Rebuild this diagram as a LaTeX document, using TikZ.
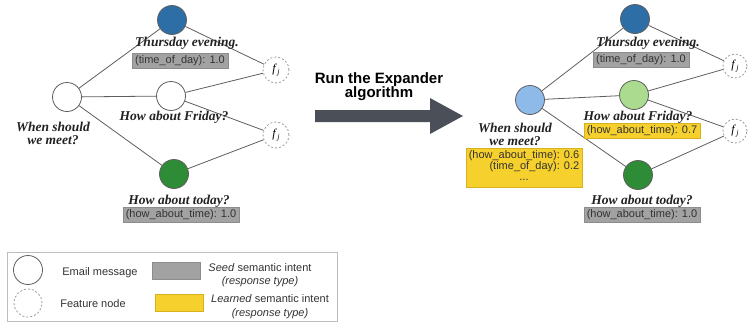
\documentclass[tikz,border=0pt]{standalone}
\usepackage{fontspec}
\setmainfont{Liberation Serif}
\newfontfamily\lsans{Liberation Sans}
\definecolor{edgec}{HTML}{5E5E5E}
\definecolor{featc}{HTML}{9A9A9A}
\definecolor{txtc}{HTML}{222222}
\definecolor{boxtxt}{HTML}{333333}
\definecolor{seedc}{HTML}{A2A2A2}
\definecolor{seedd}{HTML}{8C8C8C}
\definecolor{learnc}{HTML}{F6D02C}
\definecolor{learnd}{HTML}{D8B21E}
\definecolor{bluec}{HTML}{2D6EA6}
\definecolor{greenc}{HTML}{2E8B36}
\definecolor{lbluec}{HTML}{8DBAE8}
\definecolor{lgreenc}{HTML}{AADB8F}
\definecolor{arrowc}{HTML}{4B5058}
\definecolor{legc}{HTML}{BDBDBD}
\newcommand{\fj}{\textit{f}\kern0.2pt\raisebox{-2.5pt}{\fontsize{8}{8}\selectfont\textit{j}}}
\begin{document}
\begin{tikzpicture}[x=1pt,y=-1pt,
  edge/.style={draw=edgec, line width=0.8pt},
  msg/.style={circle, draw=edgec, line width=0.8pt, minimum size=29pt, inner sep=0pt},
  feat/.style={circle, draw=featc, dashed, dash pattern=on 2pt off 2pt, line width=0.8pt, minimum size=26pt, inner sep=0pt, font=\fontsize{12}{12}\selectfont},
  qtext/.style={font=\fontsize{13.5}{13}\selectfont\bfseries\itshape, text=txtc, inner sep=0pt, align=center},
  seedbox/.style={fill=seedc, draw=seedd, line width=0.5pt, font=\lsans\fontsize{11}{11}\selectfont, text=boxtxt, inner xsep=3pt, inner ysep=2pt, minimum height=15pt},
  learnbox/.style={seedbox, fill=learnc, draw=learnd},
  legtext/.style={font=\lsans\fontsize{11}{13.5}\selectfont, text=boxtxt, inner sep=0pt, align=center},
]
\useasboundingbox (0,0) rectangle (748,325);

% ---------------- left graph ----------------
\node[msg, fill=white] (L) at (67,97) {};
\node[msg, fill=bluec] (T) at (172,20) {};
\node[msg, fill=white] (F) at (171,96) {};
\node[msg, fill=greenc] (G) at (174,174) {};
\node[feat, fill=white] (fa) at (276,70) {\fj};
\node[feat, fill=white] (fb) at (276,135) {\fj};
\draw[edge] (L) -- (T);
\draw[edge] (L) -- (F);
\draw[edge] (L) -- (G);
\draw[edge] (T) -- (fa);
\draw[edge] (F) -- (fa);
\draw[edge] (F) -- (fb);
\draw[edge] (G) -- (fb);

\node[qtext] (tq1) at (187,43) {Thursday evening.};
\node[seedbox] (tb1) at (180,61) {(time\_of\_day): 1.0};
\node[qtext] (fq1) at (174,117) {How about Friday?};
\node[qtext] (lq1) at (53,133) {When should\\we meet?};
\node[qtext] (gq1) at (179,201) {How about today?};
\node[seedbox] (gb1) at (181,215) {(how\_about\_time): 1.0};

% ---------------- arrow ----------------
\fill[arrowc] (315,110) -- (430,110) -- (430,98) -- (463,116) -- (430,134) -- (430,122) -- (315,122) -- cycle;
\node[font=\lsans\bfseries\fontsize{15}{14}\selectfont, align=center, inner sep=0pt] (run) at (379,87) {Run the Expander\\algorithm};

% ---------------- right graph ----------------
\node[msg, fill=lbluec] (L2) at (530,100) {};
\node[msg, fill=bluec] (T2) at (635,19) {};
\node[msg, fill=lgreenc] (F2) at (634,95) {};
\node[msg, fill=greenc] (G2) at (638,175) {};
\node[feat, fill=white, minimum size=24pt] (fa2) at (735,66) {\fj};
\node[feat, fill=white, minimum size=24pt] (fb2) at (735,131) {\fj};
\draw[edge] (L2) -- (T2);
\draw[edge] (L2) -- (F2);
\draw[edge] (L2) -- (G2);
\draw[edge] (T2) -- (fa2);
\draw[edge] (F2) -- (fa2);
\draw[edge] (F2) -- (fb2);
\draw[edge] (G2) -- (fb2);

\node[qtext] (tq2) at (648,43) {Thursday evening.};
\node[seedbox] (tb2) at (641,60) {(time\_of\_day): 1.0};
\node[qtext] (fq2) at (638,117) {How about Friday?};
\node[learnbox] (fb2box) at (642,131) {(how\_about\_time): 0.7};
\node[qtext] (lq2) at (515,134) {When should\\we meet?};
\node[learnbox, inner ysep=2.5pt] (lb2) at (524,167.5) {\begin{tabular}{@{}r@{}}(how\_about\_time): 0.6\\(time\_of\_day): 0.2\\\multicolumn{1}{@{}c@{}}{...}\end{tabular}};
\node[qtext] (gq2) at (642,201) {How about today?};
\node[seedbox] (gb2) at (642,215) {(how\_about\_time): 1.0};

% ---------------- legend ----------------
\node[draw=legc, line width=0.6pt, minimum width=330pt, minimum height=69pt, inner sep=0pt] (leg) at (172,286.5) {};
\node[msg, minimum size=29pt] (lm) at (28,270) {};
\node[feat, minimum size=28pt] (lf) at (28,303) {};
\node[legtext] (lmt) at (100,273) {Email message};
\node[legtext] (lft) at (93,304) {Feature node};
\node[fill=seedc, draw=seedd, line width=0.5pt, minimum width=48pt, minimum height=17pt, inner sep=0pt] (ls) at (176,270.5) {};
\node[fill=learnc, draw=learnd, line width=0.5pt, minimum width=48pt, minimum height=17pt, inner sep=0pt] (ll) at (179,303) {};
\node[legtext] (lst) at (260,275) {\textit{Seed} semantic intent\\\textit{(response type)}};
\node[legtext] (llt) at (270,306.5) {\textit{Learned} semantic intent\\\textit{(response type)}};
\end{tikzpicture}
\end{document}
